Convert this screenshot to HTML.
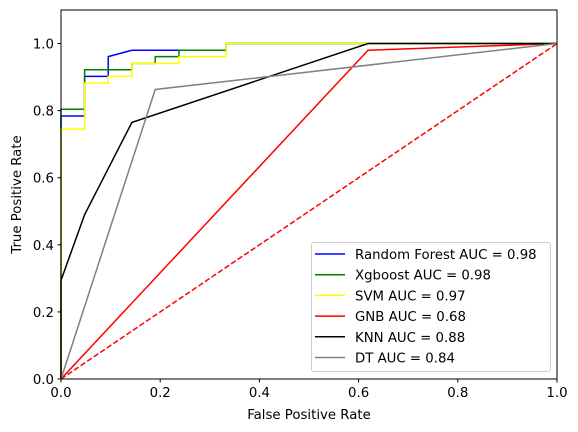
<!DOCTYPE html>
<html><head><meta charset="utf-8"><style>
body{margin:0;background:#fff;}
svg{font-family:"DejaVu Sans","Liberation Sans",sans-serif;display:block;}
</style></head><body>
<svg id="chart" width="578" height="432" viewBox="0 0 578 432"></svg>
<script>
const xTicks=[0,0.2,0.4,0.6,0.8,1.0];
const yTicks=[0,0.2,0.4,0.6,0.8,1.0];
const tickLabels=["0.0","0.2","0.4","0.6","0.8","1.0"];
const seriesNames=["Random Forest AUC = 0.98","Xgboost AUC = 0.98","SVM AUC = 0.97","GNB AUC = 0.68","KNN AUC = 0.88","DT AUC = 0.84"];
const seriesColors=["blue","green","yellow","red","black","gray"];
const rfFpr=[0,0,0.0476,0.0476,0.0952,0.0952,0.143,0.333,0.333,1];
const rfTpr=[0,0.784,0.784,0.902,0.902,0.961,0.98,0.98,1,1];
const xgFpr=[0,0,0.0476,0.0476,0.143,0.143,0.19,0.19,0.238,0.238,0.333,0.333,1];
const xgTpr=[0,0.804,0.804,0.922,0.922,0.941,0.941,0.961,0.961,0.98,0.98,1,1];
const svmFpr=[0,0,0.0476,0.0476,0.0952,0.0952,0.143,0.143,0.238,0.238,0.333,0.333,1];
const svmTpr=[0,0.745,0.745,0.882,0.882,0.902,0.902,0.941,0.941,0.961,0.961,1,1];
const gnbFpr=[0,0.619,1];
const gnbTpr=[0,0.98,1];
const knnFpr=[0,0,0.0476,0.143,0.619,1];
const knnTpr=[0,0.294,0.49,0.765,1,1];
const dtFpr=[0,0.19,1];
const dtTpr=[0,0.863,1];
const chanceX=[0,1];
const chanceY=[0,1];

const L=61,R=557,T=10,B=379,yMax=1.1;
const sx=v=>L+v*(R-L);
const sy=v=>B-v/yMax*(B-T);
const svg=document.getElementById('chart');
const NS='http://www.w3.org/2000/svg';
function mk(tag,attrs,parent){const e=document.createElementNS(NS,tag);for(const k in attrs)e.setAttribute(k,attrs[k]);(parent||svg).appendChild(e);return e;}

const plot=mk('g',{});


const xs=[rfFpr,xgFpr,svmFpr,gnbFpr,knnFpr,dtFpr];
const ys=[rfTpr,xgTpr,svmTpr,gnbTpr,knnTpr,dtTpr];
const keys=['random-forest','xgboost','svm','gnb','knn','dt'];
const ch=mk('polyline',{points:chanceX.map((v,i)=>sx(v)+','+sy(chanceY[i])).join(' '),fill:'none',stroke:'red','stroke-width':1.5,'stroke-dasharray':'5.5,2.4'},plot);


for(let s=0;s<6;s++){
  const p=mk('polyline',{points:xs[s].map((v,i)=>sx(v)+','+sy(ys[s][i])).join(' '),fill:'none',stroke:seriesColors[s],'stroke-width':1.5},plot);
  
  
}
const fr=mk('rect',{x:L,y:T,width:R-L,height:B-T,fill:'none',stroke:'#000','stroke-width':1});


xTicks.forEach((v,i)=>{
  mk('line',{x1:sx(v),x2:sx(v),y1:B,y2:B+3.5,stroke:'#000'});
  const t=mk('text',{x:sx(v),y:B+18,'font-size':13.3,'text-anchor':'middle'});t.textContent=tickLabels[i];
  
  
});
yTicks.forEach((v,i)=>{
  mk('line',{x1:L-3.5,x2:L,y1:sy(v),y2:sy(v),stroke:'#000'});
  const t=mk('text',{x:L-7,y:sy(v)+5,'font-size':13.3,'text-anchor':'end'});t.textContent=tickLabels[i];
  
  
});
const xl=mk('text',{x:(L+R)/2,y:419,'font-size':13.3,'text-anchor':'middle'});xl.textContent='False Positive Rate';


const yl=mk('text',{x:0,y:0,'font-size':13.3,'text-anchor':'middle',transform:'translate(21,'+((T+B)/2)+') rotate(-90)'});yl.textContent='True Positive Rate';


const lg=mk('g',{});


mk('rect',{x:311.5,y:242.5,width:239,height:129,rx:2.5,fill:'#fff','fill-opacity':0.8,stroke:'#ccc'},lg);
seriesNames.forEach((n,i)=>{
  const y=254+i*20.7;
  mk('line',{x1:315,x2:345,y1:y,y2:y,stroke:seriesColors[i],'stroke-width':1.5},lg);
  const t=mk('text',{x:355,y:y+5,'font-size':13.3},lg);t.textContent=n;
  
  
});
</script>
</body></html>
